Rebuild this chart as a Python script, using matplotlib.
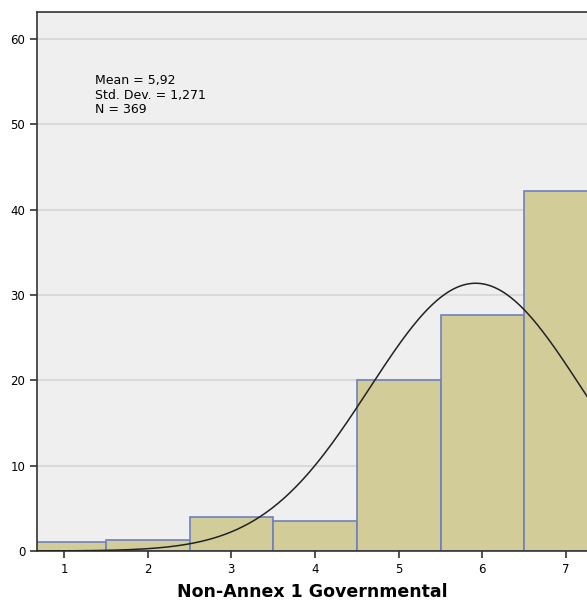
import numpy as np
import matplotlib.pyplot as plt

# === Данные ===
categories = [1, 2, 3, 4, 5, 6, 7]
percents = [1.05, 1.3, 4.0, 3.5, 20.0, 27.7, 42.2]
mean, sd, n = 5.92, 1.271, 369

fig = plt.figure(figsize=(5.87, 6.06), dpi=100)
ax = fig.add_axes([0.063, 0.0908, 0.937, 0.889])
ax.set_facecolor("#efefef")

ax.bar(categories, percents, width=1.0, color="#d2cd98",
       edgecolor="#6f80bd", linewidth=1.2, zorder=2)

# normal curve (scaled to percent with bin width 1)
xs = np.linspace(0.5, 7.5, 400)
ys = 100 / (sd * np.sqrt(2 * np.pi)) * np.exp(-0.5 * ((xs - mean) / sd) ** 2)
ax.plot(xs, ys, color="#222222", linewidth=1.1, zorder=3)

ax.set_xlim(0.677, 7.251)
ax.set_ylim(0, 63.16)
ax.set_xticks(categories)
ax.set_yticks(range(0, 61, 10))
ax.yaxis.grid(True, color="#d9d9d9", linewidth=1.5, zorder=1)
ax.set_axisbelow(True)

ax.spines["right"].set_visible(False)
for side in ["left", "top", "bottom"]:
    ax.spines[side].set_color("#333333")
    ax.spines[side].set_linewidth(1.2)

ax.tick_params(axis="both", labelsize=8.5, length=5, width=1.2, color="#333333")

ax.text(1.37, 55.9, f"Mean = 5,92\nStd. Dev. = 1,271\nN = {n}",
        fontsize=9, va="top", ha="left", linespacing=1.15)

ax.set_xlabel("Non-Annex 1 Governmental", fontsize=12.5, fontweight="bold", labelpad=5)

fig.savefig("out.png", dpi=100)
